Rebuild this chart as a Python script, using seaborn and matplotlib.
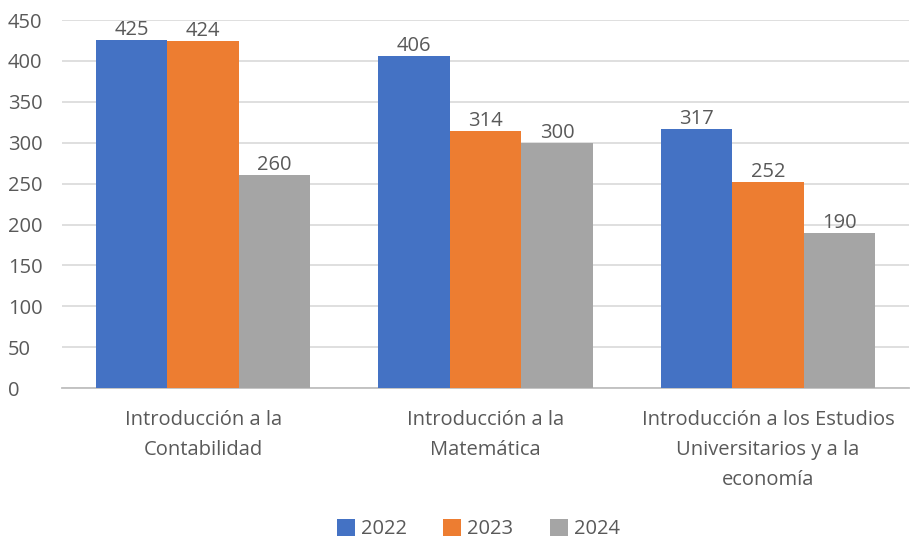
import numpy as np
import pandas as pd
import matplotlib.pyplot as plt
import seaborn as sns

categorias = ["Introducción a la\nContabilidad",
              "Introducción a la\nMatemática",
              "Introducción a los Estudios\nUniversitarios y a la\neconomía"]
anios = ["2022", "2023", "2024"]
v2022 = [425, 406, 317]
v2023 = [424, 314, 252]
v2024 = [260, 300, 190]
colores = ["#4472C4", "#ED7D31", "#A5A5A5"]

df = pd.DataFrame({
    "curso": categorias * 3,
    "anio": [a for a in anios for _ in categorias],
    "valor": v2022 + v2023 + v2024,
})

sns.set_style("white")
plt.rcParams['font.family'] = ['Open Sans', 'DejaVu Sans']
gris = "#595959"
fs = 14.5

fig = plt.figure(figsize=(9.11, 5.42), dpi=100)
ax = fig.add_axes([0.068, 0.284, 0.93, 0.679])
sns.barplot(data=df, x="curso", y="valor", hue="anio", palette=colores,
            width=0.76, saturation=1, linewidth=0, ax=ax, zorder=3)

for c in ax.containers:
    ax.bar_label(c, padding=0, fontsize=fs, color=gris)

ax.set_ylim(0, 450)
ax.set_yticks(range(0, 451, 50))
ax.set_xlim(-0.5, 2.5)
ax.yaxis.grid(True, color="#D9D9D9", linewidth=1.2, zorder=0)
ax.set_axisbelow(True)
for s in ["top", "right", "left"]:
    ax.spines[s].set_visible(False)
ax.spines["bottom"].set_color("#BFBFBF")
ax.spines["bottom"].set_linewidth(1.3)
ax.tick_params(axis="both", length=0, labelsize=fs, colors=gris)
ax.tick_params(axis="x", pad=16)
ax.tick_params(axis="y", pad=39)
for t in ax.get_yticklabels():
    t.set_horizontalalignment("left")
plt.setp(ax.get_xticklabels(), linespacing=1.65)
ax.set_xlabel("")
ax.set_ylabel("")

ax.legend(loc="center", bbox_to_anchor=(0.525, 0.024), bbox_transform=fig.transFigure,
          ncol=3, frameon=False, fontsize=fs, labelcolor=gris, handlelength=0.9,
          handleheight=0.9, handletextpad=0.3, columnspacing=1.8)

fig.savefig("out.png", dpi=100)
